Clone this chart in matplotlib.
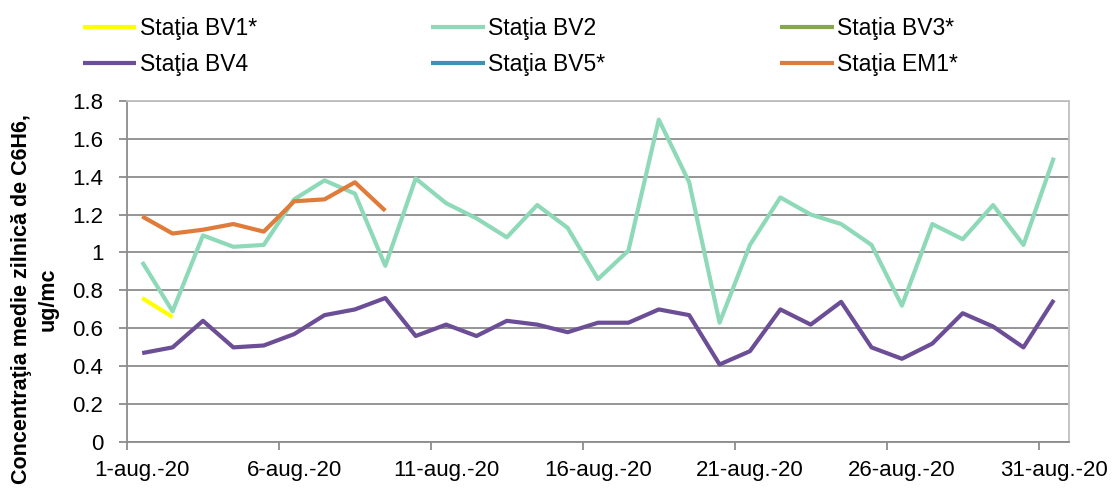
import matplotlib
matplotlib.use("Agg")
import matplotlib.pyplot as plt
import numpy as np

plt.rcParams['font.family'] = ['Liberation Sans', 'DejaVu Sans']

# ---------------------
# Data (daily mean benzene, Aug 2020)
# ---------------------
days = list(range(1, 32))
tick_days = [1, 6, 11, 16, 21, 26, 31]
tick_labels = ["1-aug.-20", "6-aug.-20", "11-aug.-20", "16-aug.-20",
               "21-aug.-20", "26-aug.-20", "31-aug.-20"]

bv1 = [0.76, 0.66]
bv2 = [0.95, 0.69, 1.09, 1.03, 1.04, 1.28, 1.38, 1.31, 0.93, 1.39,
       1.26, 1.18, 1.08, 1.25, 1.13, 0.86, 1.01, 1.70, 1.37, 0.63,
       1.04, 1.29, 1.20, 1.15, 1.04, 0.72, 1.15, 1.07, 1.25, 1.04, 1.50]
bv3 = []
bv4 = [0.47, 0.50, 0.64, 0.50, 0.51, 0.57, 0.67, 0.70, 0.76, 0.56,
       0.62, 0.56, 0.64, 0.62, 0.58, 0.63, 0.63, 0.70, 0.67, 0.41,
       0.48, 0.70, 0.62, 0.74, 0.50, 0.44, 0.52, 0.68, 0.61, 0.50, 0.75]
bv5 = []
em1 = [1.19, 1.10, 1.12, 1.15, 1.11, 1.27, 1.28, 1.37, 1.22]

# legend order (column-wise fill, 3 columns)
series = [
    ("Staţia BV1*", bv1, "#FFFF00"),
    ("Staţia BV4", bv4, "#6B4E96"),
    ("Staţia BV2", bv2, "#8ED9B8"),
    ("Staţia BV5*", bv5, "#3A93B0"),
    ("Staţia BV3*", bv3, "#86A84A"),
    ("Staţia EM1*", em1, "#E07B39"),
]

fig = plt.figure(figsize=(11.13, 4.94), dpi=100)
ax = fig.add_axes([0.1141, 0.1047, 0.8464, 0.6915])

handles = {}
for name, vals, col in series:
    ln, = ax.plot(days[:len(vals)], vals, color=col, lw=3,
                  solid_capstyle='butt', label=name)
    handles[name] = ln
handles["Staţia EM1*"].set_zorder(3)
handles["Staţia BV1*"].set_zorder(3)

ax.set_xlim(0.5, 31.5)
ax.set_ylim(0, 1.8)
ax.set_yticks(np.arange(0, 1.81, 0.2))
ax.set_yticklabels(["0", "0.2", "0.4", "0.6", "0.8", "1", "1.2", "1.4", "1.6", "1.8"])
ax.yaxis.grid(True, color="#8C8C8C", lw=1.3)
ax.set_axisbelow(True)

# ticks on day boundaries, labels centred on the day
ax.set_xticks([d - 0.5 for d in tick_days])
ax.set_xticklabels([])
ax.set_xticks(tick_days, minor=True)
ax.set_xticklabels(tick_labels, minor=True)
ax.tick_params(axis='x', which='major', length=6, width=1.3, color="#8C8C8C")
ax.tick_params(axis='x', which='minor', length=0, pad=13, labelsize=16)
ax.tick_params(axis='y', length=6, width=1.3, color="#8C8C8C", pad=11, labelsize=16)

for side in ["left", "bottom"]:
    ax.spines[side].set_color("#8C8C8C")
    ax.spines[side].set_linewidth(1.3)
for side in ["top", "right"]:
    ax.spines[side].set_color("#BFBFBF")
    ax.spines[side].set_linewidth(1.3)

fig.text(0.031, 0.395, "Concentraţia medie zilnică de C6H6,\nug/mc",
         rotation=90, ha="center", va="center", multialignment="center",
         fontsize=15.5, fontweight="bold", linespacing=1.35)

fig.legend([handles[n] for n, _, _ in series], [n for n, _, _ in series],
           ncol=3, loc="upper left", bbox_to_anchor=(0.0556, 1.008),
           frameon=False, fontsize=16.5, handlelength=2.35, handletextpad=0.15,
           columnspacing=7.6, labelspacing=0.6)

fig.savefig("out.png", dpi=100)
